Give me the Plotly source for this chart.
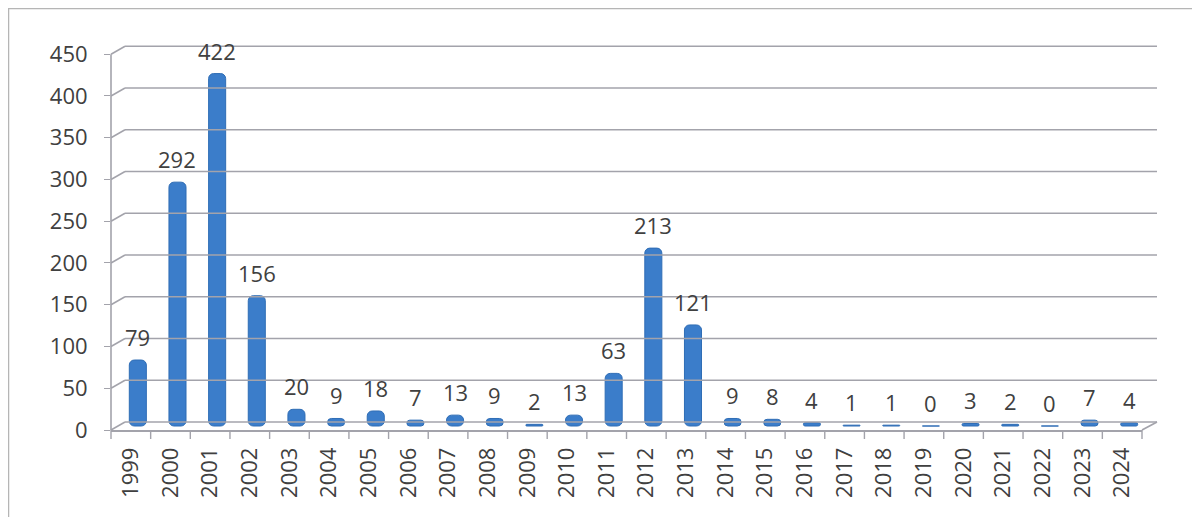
import plotly.graph_objects as go

years = [str(y) for y in range(1999, 2025)]
counts = [79, 292, 422, 156, 20, 9, 18, 7, 13, 9, 2, 13, 63, 213, 121,
          9, 8, 4, 1, 1, 0, 3, 2, 0, 7, 4]
y_ticks = [0, 50, 100, 150, 200, 250, 300, 350, 400, 450]

# ---- geometry (pixels, in figure coordinates; page body adds an 8px margin) ----
W, H = 1192, 509
L, R, T, B = 103, 58, 32, 87
plot_w = W - L - R
plot_h = H - T - B
y_top = 467.0
k = plot_h / y_top               # px per data unit
dx_back, dy_back = 14, 8          # depth offset of back wall (px)
depth_units = (dy_back / 2) / k   # bars stand at mid-depth
bar_w = 0.43
cat_px = plot_w / len(years)
bar_shift = (dx_back / 2) / cat_px

grid_col = "#a3a3ab"
text_col = "#404040"
font_fam = "Open Sans, Lato, sans-serif"
fsize = 22


def px_x(px):
    return (px - L) / plot_w


def py(v, extra_px=0):
    return v / y_top + extra_px / plot_h


fig = go.Figure()
fig.add_trace(go.Bar(
    x=list(range(len(years))), y=counts,
    base=depth_units,
    width=bar_w,
    offset=-bar_w / 2 + bar_shift,
    marker=dict(color="#3b7dca", line=dict(color="#2f6db5", width=1),
                cornerradius=5),
    hovertext=years,
    hoverinfo="text+y",
))

shapes = []
# back-wall gridlines and their left diagonal connectors
for t in y_ticks:
    shapes.append(dict(type="line", xref="paper", yref="paper",
                       x0=px_x(L + dx_back), x1=px_x(L + plot_w + dx_back + 1),
                       y0=py(t, dy_back), y1=py(t, dy_back),
                       line=dict(color=grid_col, width=1.6)))
    shapes.append(dict(type="line", xref="paper", yref="paper",
                       x0=0, x1=px_x(L + dx_back),
                       y0=py(t), y1=py(t, dy_back),
                       line=dict(color=grid_col, width=1.6)))
# front vertical axis line
shapes.append(dict(type="line", xref="paper", yref="paper",
                   x0=0, x1=0, y0=py(0), y1=py(y_ticks[-1]),
                   line=dict(color=grid_col, width=1.6)))
# floor right diagonal
shapes.append(dict(type="line", xref="paper", yref="paper",
                   x0=1, x1=px_x(L + plot_w + dx_back + 1),
                   y0=py(0), y1=py(0, dy_back),
                   line=dict(color=grid_col, width=1.6)))
# outer chart frame (left and top edges visible)
shapes.append(dict(type="rect", xref="paper", yref="paper",
                   x0=px_x(0.5), x1=px_x(W + 10),
                   y0=py(0, -(H + 10 - (T + plot_h))), y1=py(0, (T + plot_h) - 0.5),
                   line=dict(color="#b5b5b5", width=1.5), fillcolor="rgba(0,0,0,0)"))

annotations = []
for i, c in enumerate(counts):
    annotations.append(dict(x=i, y=c + depth_units, xref="x", yref="y",
                            text=str(c), showarrow=False,
                            xshift=dx_back / 2, yshift=23,
                            font=dict(size=fsize, color=text_col, family=font_fam)))

fig.update_layout(
    width=W, height=H,
    margin=dict(l=L, r=R, t=T, b=B),
    paper_bgcolor="white", plot_bgcolor="white",
    showlegend=False,
    shapes=shapes,
    annotations=annotations,
    font=dict(family=font_fam, color=text_col, size=fsize),
    xaxis=dict(range=[-0.5, len(years) - 0.5],
               tickmode="array", tickvals=list(range(len(years))), ticktext=years,
               tickangle=-90, showgrid=False, showline=True,
               linecolor=grid_col, linewidth=1.6,
               ticks="", ticklabelstandoff=7,
               tickfont=dict(size=fsize, color=text_col)),
    yaxis=dict(range=[0, y_top], tickvals=y_ticks, showgrid=False,
               zeroline=False, showline=False,
               ticks="outside", ticklen=6, tickcolor=grid_col, tickwidth=1.4,
               ticklabelstandoff=12,
               tickfont=dict(size=fsize, color=text_col)),
)

# category boundary tick marks below the floor front edge
for i in range(len(years) + 1):
    fig.add_shape(type="line", xref="paper", yref="paper",
                  x0=i / len(years), x1=i / len(years),
                  y0=0, y1=-9 / plot_h,
                  line=dict(color=grid_col, width=1.4))

fig.write_html("out.html")
